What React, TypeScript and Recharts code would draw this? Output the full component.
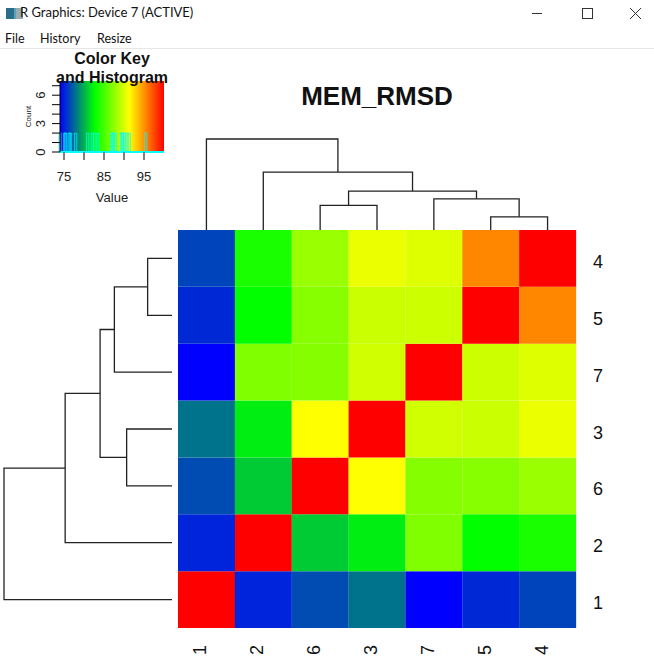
import React from 'react';
import {
  BarChart, Bar, XAxis, YAxis, Cell, ScatterChart, Scatter, ReferenceArea, ReferenceLine,
} from 'recharts';

const FONT = '"Liberation Sans", Arial, Helvetica, sans-serif';
const UI_FONT = 'Lato, "Open Sans", sans-serif';

// samples, in original order
const SAMPLES = ['1', '2', '3', '4', '5', '6', '7'];
// pairwise values (symmetric), row/col = SAMPLES
const MATRIX = [
  [100, 75.2, 77.9, 76.3, 75.4, 76.6, 74.0],
  [75.2, 100, 82.1, 83.5, 82.7, 80.9, 87.0],
  [77.9, 82.1, 100, 90.7, 89.5, 91.3, 89.7],
  [76.3, 83.5, 90.7, 100, 95.4, 87.9, 90.2],
  [75.4, 82.7, 89.5, 95.4, 100, 87.3, 89.6],
  [76.6, 80.9, 91.3, 87.9, 87.3, 100, 87.2],
  [74.0, 87.0, 89.7, 90.2, 89.6, 87.2, 100],
];
// dendrogram leaf order (left->right for columns, bottom->top for rows)
const LEAF_ORDER = ['1', '2', '6', '3', '7', '5', '4'];
// merges: [left, right, height]; 'mK' = result of merge K
const MERGES: [string, string, number][] = [
  ['5', '4', 0.145],
  ['6', '3', 0.27],
  ['7', 'm0', 0.343],
  ['m1', 'm2', 0.428],
  ['2', 'm3', 0.636],
  ['1', 'm4', 1],
];

const KEY_MIN = 74;
const KEY_MAX = 100;
const KEY_COLORS = ['#0000FF', '#00FF00', '#FFFF00', '#FF0000'];
const KEY_TICKS = [75, 80, 85, 90, 95];
const KEY_LABELED = [75, 85, 95];
const COUNT_TICKS = [0, 1, 2, 3, 4, 5, 6, 7];
const COUNT_LABELED = [0, 3, 6];

const idx = (s: string) => SAMPLES.indexOf(s);

const parseHex = (c: string) => [1, 3, 5].map(i => parseInt(c.slice(i, i + 2), 16));
const toHex = (n: number) => Math.round(n).toString(16).padStart(2, '0');

function valueColor(v: number) {
  const n = KEY_COLORS.length - 1;
  const t = Math.min(1, Math.max(0, (v - KEY_MIN) / (KEY_MAX - KEY_MIN))) * n;
  const i = Math.min(Math.floor(t), n - 1);
  const f = t - i;
  const a = parseHex(KEY_COLORS[i]);
  const b = parseHex(KEY_COLORS[i + 1]);
  return '#' + a.map((c, k) => toHex(c + (b[k] - c) * f)).join('');
}

// heatmap table: one entry per column, one stacked unit per row
const heatData = LEAF_ORDER.map(name => {
  const d: Record<string, any> = { name };
  LEAF_ORDER.forEach((_, j) => { d['r' + j] = 1; });
  return d;
});

// dendrogram geometry in data units
const nodes: Record<string, { pos: number; h: number }> = {};
LEAF_ORDER.forEach((s, i) => { nodes[s] = { pos: i + 0.5, h: 0 }; });
MERGES.forEach(([a, b, h], k) => { nodes['m' + k] = { pos: (nodes[a].pos + nodes[b].pos) / 2, h }; });
const branches = MERGES.map(([a, b, h]) => [
  { pos: nodes[a].pos, h: nodes[a].h },
  { pos: nodes[a].pos, h },
  { pos: nodes[b].pos, h },
  { pos: nodes[b].pos, h: nodes[b].h },
]);

// histogram of off-diagonal values
const histMap: Record<string, number> = {};
MATRIX.forEach((row, i) => row.forEach((v, j) => {
  if (i !== j) histMap[v.toFixed(1)] = (histMap[v.toFixed(1)] || 0) + 1;
}));
const hist = Object.entries(histMap).map(([v, count]) => ({ value: Number(v), count }));

const noDot = () => <g />;

const ColTick = ({ x, y, payload }: any) => (
  <text x={x} y={y + 9} transform={`rotate(-90, ${x}, ${y + 9})`} textAnchor="end"
    fontSize={18} fill="#111" fontFamily={FONT}>{payload.value}</text>
);

const RowTick = ({ x, y, payload }: any) => (
  <text x={x + 9} y={y} dy="0.53em" textAnchor="start" fontSize={18} fill="#111" fontFamily={FONT}>
    {LEAF_ORDER[Math.floor(payload.value)]}
  </text>
);

const KeyXTick = ({ x, y, payload }: any) => (
  KEY_LABELED.includes(payload.value)
    ? <text x={x} y={y + 19} textAnchor="middle" fontSize={13} fill="#222" fontFamily={FONT}>{payload.value}</text>
    : <g />
);

const KeyYTick = ({ x, y, payload }: any) => (
  COUNT_LABELED.includes(payload.value)
    ? <text x={x - 5} y={y} transform={`rotate(-90, ${x - 5}, ${y})`} textAnchor="middle"
        fontSize={13} fill="#222" fontFamily={FONT}>{payload.value}</text>
    : <g />
);

const Chrome = () => (
  <>
    <div style={{ position: 'absolute', left: 6, top: 8, width: 17, height: 11, background: 'linear-gradient(90deg,#2a6f8a 0 45%,#5aa0b8 45% 60%,#9aa 60% 100%)' }} />
    <div style={{ position: 'absolute', left: 20, top: 4, fontSize: 13, fontFamily: UI_FONT, color: '#111', whiteSpace: 'nowrap' }}>
      R Graphics: Device 7 (ACTIVE)
    </div>
    <svg width={654} height={30} style={{ position: 'absolute', left: 0, top: 0 }}>
      <line x1={532} y1={13.5} x2={542} y2={13.5} stroke="#333" strokeWidth={1} />
      <rect x={582.5} y={8.5} width={10} height={10} fill="none" stroke="#333" strokeWidth={1} />
      <line x1={630} y1={8} x2={641} y2={19} stroke="#333" strokeWidth={1} />
      <line x1={641} y1={8} x2={630} y2={19} stroke="#333" strokeWidth={1} />
    </svg>
    {[['File', 5], ['History', 40], ['Resize', 97]].map(([t, x]) => (
      <div key={t as string} style={{ position: 'absolute', left: x as number, top: 31, fontSize: 12.5, fontFamily: UI_FONT, color: '#111' }}>{t}</div>
    ))}
    <div style={{ position: 'absolute', left: 0, top: 48, width: 654, height: 1, background: '#e6e6e6' }} />
  </>
);

export default function App() {
  return (
    <div style={{ position: 'absolute', left: 0, top: 0, width: 654, height: 660, background: '#fff', overflow: 'hidden' }}>
      <Chrome />

      {/* color key with histogram */}
      <div style={{ position: 'absolute', left: 0, top: 60 }}>
        <ScatterChart width={200} height={150} margin={{ top: 21, right: 36, bottom: 18, left: 0 }}>
          <defs>
            <linearGradient id="keyGrad" x1="0" y1="0" x2="1" y2="0">
              {KEY_COLORS.map((c, i) => (
                <stop key={c} offset={i / (KEY_COLORS.length - 1)} stopColor={c} />
              ))}
            </linearGradient>
          </defs>
          <XAxis type="number" dataKey="value" domain={[KEY_MIN, KEY_MAX]} ticks={KEY_TICKS}
            axisLine={false} tickSize={8} tickLine={{ stroke: '#000' }} tick={<KeyXTick />} height={40} interval={0} />
          <YAxis type="number" dataKey="count" domain={[0, 7.5]} ticks={COUNT_TICKS} width={60}
            axisLine={{ stroke: '#000' }} tickSize={8} tickLine={{ stroke: '#000' }} tick={<KeyYTick />} interval={0} />
          <ReferenceArea x1={KEY_MIN} x2={KEY_MAX} y1={0} y2={7.5} fill="url(#keyGrad)" fillOpacity={1} stroke="none" ifOverflow="visible" />
          {hist.map(b => (
            <ReferenceArea key={b.value} x1={b.value - 0.3} x2={b.value + 0.3} y1={0} y2={b.count}
              fill="#00FFFF" fillOpacity={0.15} stroke="#00FFFF" strokeOpacity={0.8} strokeWidth={0.8} ifOverflow="visible" />
          ))}
          <ReferenceLine y={0} stroke="#00FFFF" strokeWidth={2} ifOverflow="visible" />
          <Scatter data={hist} shape={noDot} isAnimationActive={false} legendType="none" />
        </ScatterChart>
      </div>

      {/* column dendrogram */}
      <div style={{ position: 'absolute', left: 178, top: 134 }}>
        <ScatterChart width={398} height={96} margin={{ top: 5, right: 0, bottom: 0, left: 0 }}>
          <XAxis type="number" dataKey="pos" domain={[0, 7]} hide />
          <YAxis type="number" dataKey="h" domain={[0, 1]} hide />
          {branches.map((pts, k) => (
            <Scatter key={k} data={pts} line={{ stroke: '#222', strokeWidth: 1.3 }} shape={noDot}
              isAnimationActive={false} legendType="none" />
          ))}
        </ScatterChart>
      </div>

      {/* row dendrogram */}
      <div style={{ position: 'absolute', left: 0, top: 230 }}>
        <ScatterChart width={176} height={398} margin={{ top: 0, right: 4, bottom: 0, left: 4 }}>
          <XAxis type="number" dataKey="h" domain={[0, 1]} reversed hide />
          <YAxis type="number" dataKey="pos" domain={[0, 7]} hide />
          {branches.map((pts, k) => (
            <Scatter key={k} data={pts} line={{ stroke: '#222', strokeWidth: 1.3 }} shape={noDot}
              isAnimationActive={false} legendType="none" />
          ))}
        </ScatterChart>
      </div>

      {/* heatmap */}
      <div style={{ position: 'absolute', left: 178, top: 230 }}>
        <BarChart width={476} height={430} data={heatData} barCategoryGap={0} barGap={0}
          margin={{ top: 0, right: 0, bottom: 0, left: 0 }}>
          <XAxis dataKey="name" axisLine={false} tickLine={false} tick={<ColTick />} height={32} interval={0} />
          <YAxis orientation="right" type="number" domain={[0, 7]} ticks={[0.5, 1.5, 2.5, 3.5, 4.5, 5.5, 6.5]}
            axisLine={false} tickLine={false} tick={<RowTick />} width={78} interval={0} />
          {LEAF_ORDER.map((rowName, j) => (
            <Bar key={rowName} dataKey={'r' + j} stackId="cells" isAnimationActive={false}>
              {LEAF_ORDER.map(colName => (
                <Cell key={colName} fill={valueColor(MATRIX[idx(rowName)][idx(colName)])} />
              ))}
            </Bar>
          ))}
        </BarChart>
      </div>

      {/* titles */}
      <svg width={654} height={660} style={{ position: 'absolute', left: 0, top: 0, pointerEvents: 'none' }}>
        <text x={377} y={105} textAnchor="middle" fontSize={26} fontWeight="bold" fill="#111" fontFamily={FONT}>MEM_RMSD</text>
        <text x={112} y={63.5} textAnchor="middle" fontSize={16} fontWeight="bold" fill="#111" fontFamily={FONT}>Color Key</text>
        <text x={112} y={82.5} textAnchor="middle" fontSize={16} fontWeight="bold" fill="#111" fontFamily={FONT}>and Histogram</text>
        <text x={112} y={202} textAnchor="middle" fontSize={13} fill="#222" fontFamily={FONT}>Value</text>
        <text x={31} y={116.5} transform="rotate(-90, 31, 116.5)" textAnchor="middle" fontSize={8} fill="#222" fontFamily={FONT}>Count</text>
      </svg>
    </div>
  );
}
